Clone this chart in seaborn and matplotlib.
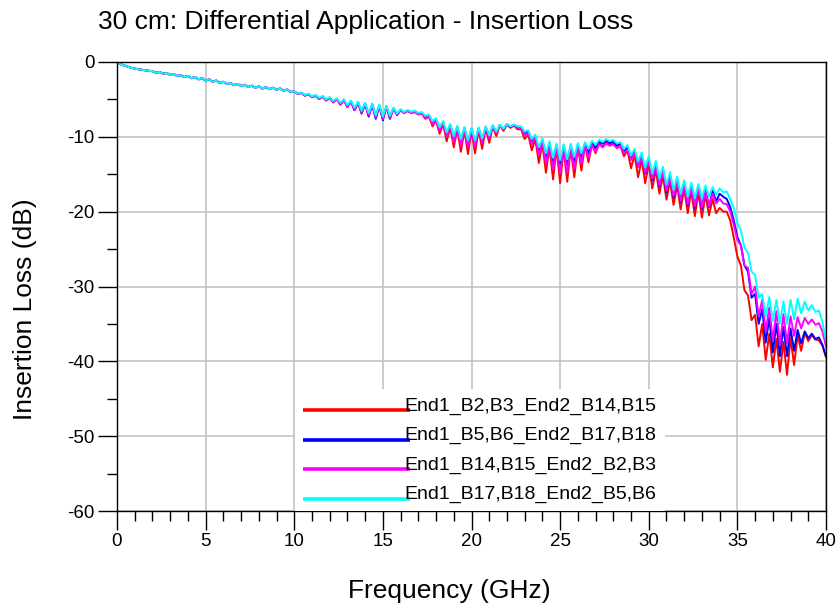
import numpy as np
import pandas as pd
import matplotlib
matplotlib.use("Agg")
import matplotlib.pyplot as plt
import seaborn as sns
from matplotlib.lines import Line2D
from matplotlib.ticker import MultipleLocator
from matplotlib.legend_handler import HandlerLine2D

# ---------------- data ----------------
title = "30 cm: Differential Application - Insertion Loss"
x_label = "Frequency (GHz)"
y_label = "Insertion Loss (dB)"

series_names = [
    "End1_B2,B3_End2_B14,B15",
    "End1_B5,B6_End2_B17,B18",
    "End1_B14,B15_End2_B2,B3",
    "End1_B17,B18_End2_B5,B6",
]
series_colors = ["#ff0000", "#0000ff", "#ff00ff", "#00ffff"]

# frequency grid, 0.2 GHz step, 0 .. 40 GHz
freq = np.round(np.arange(0, 40.001, 0.2), 1)

# 0.0 .. 9.8 GHz : all four traces overlap
common_low = [
    0.0, -0.28, -0.45, -0.62, -0.78, -0.88, -0.97, -1.04, -1.12, -1.18,
    -1.22, -1.44, -1.34, -1.56, -1.47, -1.72, -1.60, -1.88, -1.75, -2.02,
    -1.86, -2.17, -2.00, -2.32, -2.16, -2.48, -2.32, -2.64, -2.48, -2.80,
    -2.64, -2.96, -2.80, -3.10, -2.93, -3.22, -3.04, -3.34, -3.16, -3.45,
    -3.26, -3.55, -3.36, -3.64, -3.44, -3.72, -3.54, -3.84, -3.68, -4.00,
]

# 10.0 .. 40.0 GHz (0.2 GHz step)
red_hi = [
    -3.95, -4.25, -4.15, -4.50, -4.30,
    -4.70, -4.50, -4.95, -4.65, -5.15,
    -4.80, -5.40, -4.95, -5.70, -5.10,
    -6.00, -5.30, -6.40, -5.45, -6.80,
    -5.60, -7.15, -5.70, -7.45, -5.85,
    -7.60, -6.00, -7.40, -6.20, -7.00,
    -6.40, -6.80, -6.50, -6.80, -6.65,
    -7.00, -6.90, -7.60, -7.30, -8.60,
    -7.80, -9.60, -8.30, -10.60, -8.70,
    -11.40, -8.95, -12.00, -9.10, -12.30,
    -9.15, -12.20, -9.05, -11.60, -8.85,
    -10.80, -8.60, -9.90, -8.45, -9.20,
    -8.40, -8.80, -8.50, -9.00, -9.00,
    -10.30, -9.70, -11.80, -10.30, -13.50,
    -10.90, -14.80, -11.30, -15.70, -11.50,
    -16.20, -11.60, -16.00, -11.50, -15.40,
    -11.30, -14.50, -11.10, -13.40, -10.95,
    -12.20, -10.80, -11.30, -10.75, -11.00,
    -10.85, -11.50, -11.20, -12.60, -11.80,
    -14.20, -12.40, -15.40, -13.00, -16.20,
    -13.60, -16.90, -14.40, -17.60, -15.20,
    -18.40, -15.90, -19.10, -16.50, -19.70,
    -16.90, -20.20, -17.20, -20.60, -17.40,
    -20.80, -17.70, -20.50, -18.30, -20.20,
    -19.50, -20.00, -20.00, -21.20, -23.50,
    -26.00, -27.20, -30.50, -31.20, -34.50,
    -33.80, -38.00, -35.00, -39.80, -36.30,
    -40.80, -37.00, -41.40, -37.40, -41.80,
    -36.90, -40.50, -36.50, -38.60, -36.20,
    -37.30, -36.50, -37.10, -37.20, -37.90,
    -39.50,
]

blue_hi = [
    -3.95, -4.25, -4.10, -4.45, -4.30,
    -4.65, -4.45, -4.90, -4.60, -5.10,
    -4.75, -5.35, -4.90, -5.65, -5.05,
    -6.00, -5.25, -6.45, -5.40, -6.90,
    -5.55, -7.30, -5.65, -7.60, -5.80,
    -7.80, -5.95, -7.60, -6.20, -7.10,
    -6.40, -6.80, -6.50, -6.75, -6.60,
    -6.90, -6.80, -7.35, -7.10, -8.10,
    -7.60, -8.90, -8.00, -9.70, -8.40,
    -10.30, -8.65, -10.70, -8.80, -10.90,
    -8.90, -10.90, -8.85, -10.50, -8.70,
    -10.00, -8.55, -9.40, -8.45, -8.95,
    -8.35, -8.65, -8.40, -8.70, -8.75,
    -9.60, -9.30, -10.70, -9.90, -12.00,
    -10.40, -13.00, -10.80, -13.70, -11.10,
    -14.10, -11.20, -14.00, -11.15, -13.60,
    -11.05, -13.00, -10.90, -12.20, -10.75,
    -11.50, -10.60, -10.90, -10.50, -10.80,
    -10.60, -11.20, -10.90, -12.00, -11.40,
    -13.00, -11.90, -14.00, -12.50, -14.90,
    -13.10, -15.80, -13.80, -16.60, -14.60,
    -17.40, -15.30, -18.10, -15.90, -18.70,
    -16.30, -19.20, -16.60, -19.50, -16.80,
    -19.60, -17.00, -19.40, -17.20, -18.60,
    -17.60, -18.00, -18.30, -19.40, -21.20,
    -23.40, -24.50, -27.20, -28.00, -31.50,
    -31.00, -35.00, -33.00, -37.50, -34.20,
    -38.80, -35.00, -39.30, -35.40, -39.30,
    -35.60, -38.60, -35.80, -37.60, -36.00,
    -36.90, -36.30, -37.00, -36.80, -37.80,
    -39.30,
]

magenta_hi = [
    -3.95, -4.25, -4.15, -4.50, -4.30,
    -4.70, -4.50, -4.95, -4.65, -5.15,
    -4.80, -5.40, -4.95, -5.70, -5.10,
    -6.00, -5.30, -6.40, -5.45, -6.80,
    -5.60, -7.15, -5.70, -7.45, -5.85,
    -7.60, -6.00, -7.45, -6.25, -7.05,
    -6.45, -6.85, -6.55, -6.85, -6.70,
    -7.00, -6.90, -7.50, -7.20, -8.30,
    -7.70, -9.20, -8.10, -10.00, -8.50,
    -10.70, -8.75, -11.20, -8.90, -11.40,
    -9.00, -11.30, -8.90, -10.80, -8.70,
    -10.20, -8.50, -9.50, -8.40, -9.00,
    -8.30, -8.65, -8.40, -8.75, -8.80,
    -9.80, -9.40, -11.00, -10.00, -12.50,
    -10.60, -13.60, -11.00, -14.40, -11.30,
    -14.90, -11.40, -14.80, -11.40, -14.30,
    -11.30, -13.60, -11.20, -12.80, -11.10,
    -12.00, -11.00, -11.40, -10.90, -11.20,
    -11.00, -11.50, -11.20, -12.20, -11.70,
    -13.10, -12.20, -14.00, -12.70, -14.80,
    -13.30, -15.60, -14.00, -16.40, -14.80,
    -17.20, -15.50, -17.90, -16.10, -18.50,
    -16.50, -19.00, -16.80, -19.30, -17.00,
    -19.40, -17.30, -19.30, -17.60, -18.90,
    -18.30, -18.90, -19.00, -20.00, -21.80,
    -23.80, -24.50, -27.20, -27.50, -31.00,
    -30.00, -34.00, -31.80, -36.00, -32.80,
    -37.20, -33.30, -37.80, -33.70, -37.60,
    -34.00, -36.60, -34.10, -35.60, -34.20,
    -35.00, -34.40, -35.10, -34.90, -36.00,
    -38.00,
]

cyan_hi = [
    -3.95, -4.20, -4.10, -4.40, -4.25,
    -4.60, -4.40, -4.80, -4.55, -5.00,
    -4.70, -5.20, -4.85, -5.45, -5.00,
    -5.75, -5.15, -6.10, -5.30, -6.50,
    -5.45, -6.85, -5.55, -7.10, -5.70,
    -7.30, -5.85, -7.20, -6.10, -6.90,
    -6.30, -6.70, -6.40, -6.65, -6.50,
    -6.80, -6.70, -7.20, -7.00, -7.90,
    -7.50, -8.70, -7.90, -9.40, -8.30,
    -9.90, -8.55, -10.30, -8.70, -10.50,
    -8.80, -10.50, -8.75, -10.20, -8.60,
    -9.80, -8.45, -9.30, -8.40, -8.90,
    -8.30, -8.60, -8.35, -8.60, -8.60,
    -9.30, -9.10, -10.30, -9.70, -11.40,
    -10.20, -12.20, -10.60, -12.80, -10.90,
    -13.10, -11.00, -13.00, -10.95, -12.70,
    -10.85, -12.20, -10.70, -11.60, -10.55,
    -11.10, -10.40, -10.70, -10.30, -10.60,
    -10.40, -10.90, -10.70, -11.60, -11.10,
    -12.50, -11.60, -13.30, -12.10, -14.10,
    -12.60, -14.90, -13.20, -15.60, -14.00,
    -16.40, -14.70, -17.10, -15.30, -17.60,
    -15.80, -18.00, -16.10, -18.20, -16.30,
    -18.20, -16.50, -18.00, -16.70, -17.70,
    -16.90, -17.40, -17.30, -18.40, -19.50,
    -21.50, -22.50, -24.80, -25.50, -28.00,
    -28.50, -31.50, -31.00, -34.00, -31.40,
    -34.60, -31.80, -35.00, -32.00, -35.00,
    -31.80, -34.40, -31.60, -33.60, -32.00,
    -33.20, -32.50, -33.40, -33.20, -34.80,
    -37.20,
]

x_ticks = [0, 5, 10, 15, 20, 25, 30, 35, 40]
y_ticks = [-60, -50, -40, -30, -20, -10, 0]

# ---------------- build frame ----------------
frames = []
for name, hi in zip(series_names, [red_hi, blue_hi, magenta_hi, cyan_hi]):
    vals = common_low + hi
    frames.append(pd.DataFrame({"Frequency": freq, "IL": vals, "Series": name}))
df = pd.concat(frames, ignore_index=True)

# ---------------- figure ----------------
sns.set_style("white")
plt.rcParams["font.family"] = ["Liberation Sans", "DejaVu Sans"]
plt.rcParams["text.color"] = "black"
plt.rcParams["xtick.color"] = "black"
plt.rcParams["ytick.color"] = "black"
plt.rcParams["axes.labelcolor"] = "black"

W, H = 839, 604
fig = plt.figure(figsize=(W / 100, H / 100), dpi=100)
fig.patch.set_facecolor("white")
ax = fig.add_axes([117 / W, (H - 511) / H, (826 - 117) / W, (511 - 62) / H])

sns.lineplot(
    data=df, x="Frequency", y="IL", hue="Series",
    hue_order=series_names, palette=dict(zip(series_names, series_colors)),
    estimator=None, sort=False, linewidth=1.4, ax=ax, legend=False,
)

ax.set_xlim(0, 40)
ax.set_ylim(-60, 0)
ax.set_xticks(x_ticks)
ax.set_yticks(y_ticks)
ax.set_xticklabels([str(t) for t in x_ticks])
ax.set_yticklabels([str(t) for t in y_ticks])
ax.xaxis.set_minor_locator(MultipleLocator(1))
ax.yaxis.set_minor_locator(MultipleLocator(5))
ax.tick_params(axis="both", which="major", direction="out", length=13.5,
               width=1.0, color="black", labelcolor="black", labelsize=13.5,
               pad=2.5, bottom=True, left=True, top=False, right=False)
ax.tick_params(axis="both", which="minor", direction="out", length=7,
               width=1.0, color="black", bottom=True, left=True,
               top=False, right=False)
ax.grid(True, which="major", color="#c3c3c3", linewidth=1.2)
ax.set_axisbelow(True)
for s in ax.spines.values():
    s.set_visible(True)
    s.set_color("black")
    s.set_linewidth(1.0)
ax.set_xlabel("")
ax.set_ylabel("")


class LowLine(HandlerLine2D):
    def create_artists(self, legend, orig_handle, xdescent, ydescent,
                       width, height, fontsize, trans):
        arts = super().create_artists(legend, orig_handle, xdescent, ydescent,
                                      width, height, fontsize, trans)
        for a in arts:
            if isinstance(a, Line2D):
                a.set_ydata(np.asarray(a.get_ydata(), dtype=float) - 0.33 * fontsize)
        return arts


handles = [Line2D([], [], color=c, lw=2.6, solid_capstyle="butt") for c in series_colors]
leg = ax.legend(
    handles, series_names, loc="lower left",
    bbox_to_anchor=((295 - 117) / (826 - 117), 0.0),
    frameon=True, facecolor="white", edgecolor="none", framealpha=1.0,
    fancybox=False, fontsize=14, handlelength=5.5, handletextpad=-0.25,
    labelspacing=0.6, borderpad=0.4, borderaxespad=0.0,
    handler_map={Line2D: LowLine()},
)
leg.set_zorder(5)
for t in leg.get_texts():
    t.set_color("black")

fig.text(98 / W, 1 - 29 / H, title, fontsize=19, ha="left", va="baseline",
         color="black")
fig.text(449 / W, 1 - 598 / H, x_label, fontsize=19, ha="center", va="baseline",
         color="black")
fig.text(25 / W, 1 - 309 / H, y_label, fontsize=19, ha="center", va="center",
         rotation=90, color="black")

fig.savefig("out.png", dpi=100, facecolor="white")
